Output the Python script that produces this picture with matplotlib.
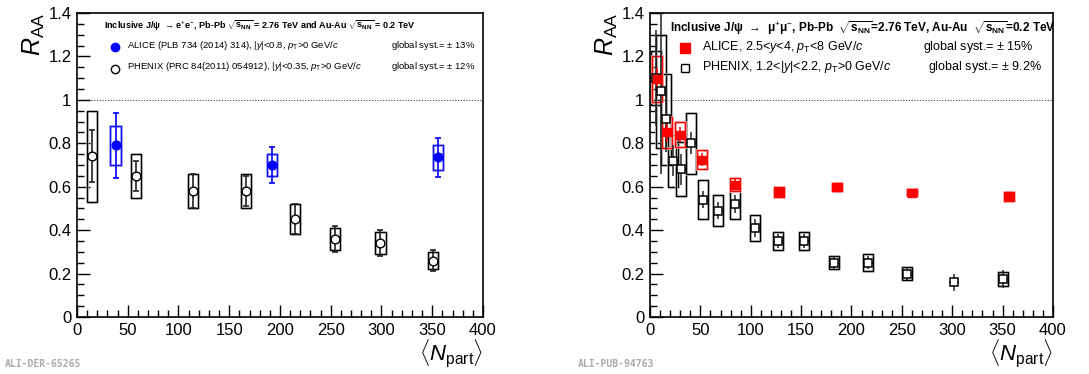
import matplotlib.pyplot as plt
from matplotlib.patches import Rectangle
from matplotlib.ticker import MultipleLocator
import matplotlib.patheffects as pe

plt.rcParams['font.family'] = ['Liberation Sans', 'DejaVu Sans']
plt.rcParams['mathtext.fontset'] = 'custom'
plt.rcParams['mathtext.rm'] = 'Liberation Sans'
plt.rcParams['mathtext.it'] = 'Liberation Sans:italic'
plt.rcParams['mathtext.bf'] = 'Liberation Sans:bold'

# --- mid-rapidity, J/psi -> e+e- ---
alice_e_npart = [38, 192, 356]
alice_e_raa = [0.79, 0.70, 0.735]
alice_e_stat = [0.15, 0.085, 0.09]
alice_e_syst = [0.09, 0.05, 0.058]

phenix_e_npart = [14.5, 58.5, 114, 166.5, 215, 254, 299, 351]
phenix_e_raa = [0.74, 0.65, 0.58, 0.58, 0.45, 0.36, 0.34, 0.26]
phenix_e_stat = [0.12, 0.07, 0.08, 0.07, 0.07, 0.06, 0.06, 0.05]
phenix_e_syst = [0.21, 0.10, 0.08, 0.08, 0.07, 0.05, 0.05, 0.04]

# --- forward rapidity, J/psi -> mu+mu- ---
alice_mu_npart = [7.3, 16.9, 29.5, 52, 84, 128.4, 185.6, 259.7, 356]
alice_mu_raa = [1.095, 0.85, 0.84, 0.725, 0.61, 0.576, 0.597, 0.573, 0.556]
alice_mu_stat = [0.05, 0.045, 0.035, 0.03, 0.025, 0.015, 0.012, 0.012, 0.012]
alice_mu_syst = [0.105, 0.07, 0.058, 0.043, 0.03, 0.022, 0.018, 0.018, 0.02]

phenix_mu_npart = [5.5, 10.6, 16.2, 22.5, 30.8, 40.4, 53, 67.5, 84.5,
                   104, 126.8, 152.6, 182.4, 216.2, 255.5, 301.5, 350.8]
phenix_mu_raa = [1.10, 1.04, 0.91, 0.72, 0.68, 0.80, 0.54, 0.49, 0.52,
                 0.41, 0.35, 0.35, 0.25, 0.25, 0.20, 0.16, 0.175]
phenix_mu_stat = [0.22, 0.38, 0.15, 0.07, 0.07, 0.05, 0.04, 0.04, 0.04,
                  0.04, 0.03, 0.03, 0.03, 0.03, 0.03, 0.04, 0.04]
phenix_mu_syst = [0.125, 0.26, 0.21, 0.12, 0.125, 0.14, 0.09, 0.07, 0.07,
                  0.06, 0.04, 0.04, 0.03, 0.04, 0.03, 0.0, 0.03]

BOX_HW = 5.0  # half width of systematic boxes, in Npart units

fig = plt.figure(figsize=(10.89, 3.74), dpi=100)
ax_l = fig.add_axes([0.0707, 0.1524, 0.3728, 0.8128])
ax_r = fig.add_axes([0.5969, 0.1524, 0.3700, 0.8128])


def draw_boxes(ax, xs, ys, syst, color, glow=None, lw=1.0):
    for x, y, s in zip(xs, ys, syst):
        if s <= 0:
            continue
        r = Rectangle((x - BOX_HW, y - s), 2 * BOX_HW, 2 * s, fill=False,
                      edgecolor=color, linewidth=lw, zorder=2)
        if glow:
            r.set_path_effects([pe.Stroke(linewidth=lw + 0.9, foreground=glow),
                                pe.Normal()])
        ax.add_patch(r)


def style_axes(ax):
    ax.set_xlim(0, 400)
    ax.set_ylim(0, 1.4)
    ax.xaxis.set_major_locator(MultipleLocator(50))
    ax.xaxis.set_minor_locator(MultipleLocator(10))
    ax.yaxis.set_minor_locator(MultipleLocator(0.05))
    ax.tick_params(which='both', direction='in', top=False, right=False,
                   labelsize=12, width=1.0)
    ax.tick_params(which='major', length=9, pad=4)
    ax.tick_params(which='minor', length=5)
    ax.set_yticks([0, 0.2, 0.4, 0.6, 0.8, 1.0, 1.2, 1.4])
    ax.set_yticklabels(['0', '0.2', '0.4', '0.6', '0.8', '1', '1.2', '1.4'])
    for sp in ax.spines.values():
        sp.set_linewidth(1.2)
    ax.axhline(1.0, color='#444444', linestyle=(0, (1, 1.5)), linewidth=0.8,
               zorder=1)
    ax.set_ylabel(r'$R_{\rm AA}$', fontsize=18, loc='top', labelpad=1)
    ax.set_xlabel(r'$\langle N_{\rm part}\rangle$', fontsize=16, loc='right',
                  labelpad=0)


# ---------------- left panel ----------------
style_axes(ax_l)
draw_boxes(ax_l, phenix_e_npart, phenix_e_raa, phenix_e_syst, 'black',
           glow='#d0d0d0')
draw_boxes(ax_l, alice_e_npart, alice_e_raa, alice_e_syst, '#1010ee',
           glow='#b8b8ff')
ax_l.errorbar(phenix_e_npart, phenix_e_raa, yerr=phenix_e_stat, fmt='none',
              ecolor='#222222', elinewidth=1.2, capsize=2, capthick=1.2,
              zorder=3)
ax_l.errorbar(alice_e_npart, alice_e_raa, yerr=alice_e_stat, fmt='none',
              ecolor='#0000ff', elinewidth=1.2, capsize=2, capthick=1.2,
              zorder=3)
ax_l.plot(phenix_e_npart, phenix_e_raa, 'o', ms=6.3, mfc='white',
          mec='black', mew=1.0, zorder=4)
ax_l.plot(alice_e_npart, alice_e_raa, 'o', ms=6.3, mfc='#0000ff',
          mec='#0000ff', zorder=4)

ax_l.text(0.066, 0.957,
          r'Inclusive J/ψ  → e$^{+}$e$^{-}$, Pb-Pb '
          r'$\sqrt{\mathbf{s}_{\mathbf{NN}}}$ = 2.76 TeV and Au-Au '
          r'$\sqrt{\mathbf{s}_{\mathbf{NN}}}$ = 0.2 TeV',
          transform=ax_l.transAxes, fontsize=6.5, fontweight='bold',
          va='center', ha='left')
ax_l.plot([0.094], [0.888], 'o', ms=6, mfc='#0000ff', mec='#0000ff',
          transform=ax_l.transAxes, clip_on=False)
ax_l.plot([0.094], [0.816], 'o', ms=6, mfc='white', mec='black', mew=1.0,
          transform=ax_l.transAxes, clip_on=False)
ax_l.text(0.123, 0.894,
          r'ALICE (PLB 734 (2014) 314), |$y$|<0.8, $p_{\rm T}$>0 GeV/$c$',
          transform=ax_l.transAxes, fontsize=6.8, va='center', ha='left')
ax_l.text(0.123, 0.825,
          r'PHENIX (PRC 84(2011) 054912), |$y$|<0.35, $p_{\rm T}$>0 GeV/$c$',
          transform=ax_l.transAxes, fontsize=6.8, va='center', ha='left')
ax_l.text(0.98, 0.894, r'global syst.= $\pm$ 13%', transform=ax_l.transAxes,
          fontsize=6.8, va='center', ha='right')
ax_l.text(0.98, 0.825, r'global syst.= $\pm$ 12%', transform=ax_l.transAxes,
          fontsize=6.8, va='center', ha='right')

# ---------------- right panel ----------------
style_axes(ax_r)
draw_boxes(ax_r, phenix_mu_npart, phenix_mu_raa, phenix_mu_syst, 'black',
           glow='#d0d0d0')
draw_boxes(ax_r, alice_mu_npart, alice_mu_raa, alice_mu_syst, '#ff0000',
           glow='#ffc0c0')
ax_r.errorbar(phenix_mu_npart, phenix_mu_raa, yerr=phenix_mu_stat,
              xerr=[BOX_HW] * len(phenix_mu_npart), fmt='none',
              ecolor='#222222', elinewidth=1.1, capsize=0, zorder=3)
ax_r.errorbar(alice_mu_npart, alice_mu_raa, yerr=alice_mu_stat, fmt='none',
              ecolor='#ff0000', elinewidth=1.1, capsize=0, zorder=3)
ax_r.plot(phenix_mu_npart, phenix_mu_raa, 's', ms=5.8, mfc='white',
          mec='black', mew=1.1, zorder=4)
ax_r.plot(alice_mu_npart, alice_mu_raa, 's', ms=6.2, mfc='#ff0000',
          mec='#ff0000', zorder=4)

ax_r.text(0.05, 0.95,
          r'Inclusive J/ψ  →  μ$^{+}$μ$^{-}$, Pb-Pb  '
          r'$\sqrt{\mathbf{s}_{\mathbf{NN}}}$=2.76 TeV, Au-Au  '
          r'$\sqrt{\mathbf{s}_{\mathbf{NN}}}$=0.2 TeV',
          transform=ax_r.transAxes, fontsize=8.5, fontweight='bold',
          va='center', ha='left')
ax_r.plot([0.087], [0.885], 's', ms=6.5, mfc='#ff0000', mec='#ff0000',
          transform=ax_r.transAxes, clip_on=False)
ax_r.plot([0.087], [0.819], 's', ms=6.2, mfc='white', mec='black', mew=1.0,
          transform=ax_r.transAxes, clip_on=False)
ax_r.text(0.13, 0.889, r'ALICE, 2.5<$y$<4, $p_{\rm T}$<8 GeV/$c$',
          transform=ax_r.transAxes, fontsize=9.0, va='center', ha='left')
ax_r.text(0.13, 0.823, r'PHENIX, 1.2<|$y$|<2.2, $p_{\rm T}$>0 GeV/$c$',
          transform=ax_r.transAxes, fontsize=9.0, va='center', ha='left')
ax_r.text(0.95, 0.889, r'global syst.= $\pm$ 15%', transform=ax_r.transAxes,
          fontsize=9.0, va='center', ha='right')
ax_r.text(0.973, 0.823, r'global syst.= $\pm$ 9.2%', transform=ax_r.transAxes,
          fontsize=9.0, va='center', ha='right')

# figure identifiers
fig.text(0.004, 0.02, 'ALI-DER-65265', fontsize=7, color='#aaaaaa',
         family='DejaVu Sans Mono', fontweight='bold')
fig.text(0.531, 0.02, 'ALI-PUB-94763', fontsize=7, color='#aaaaaa',
         family='DejaVu Sans Mono', fontweight='bold')

fig.savefig('out.png', dpi=100)
